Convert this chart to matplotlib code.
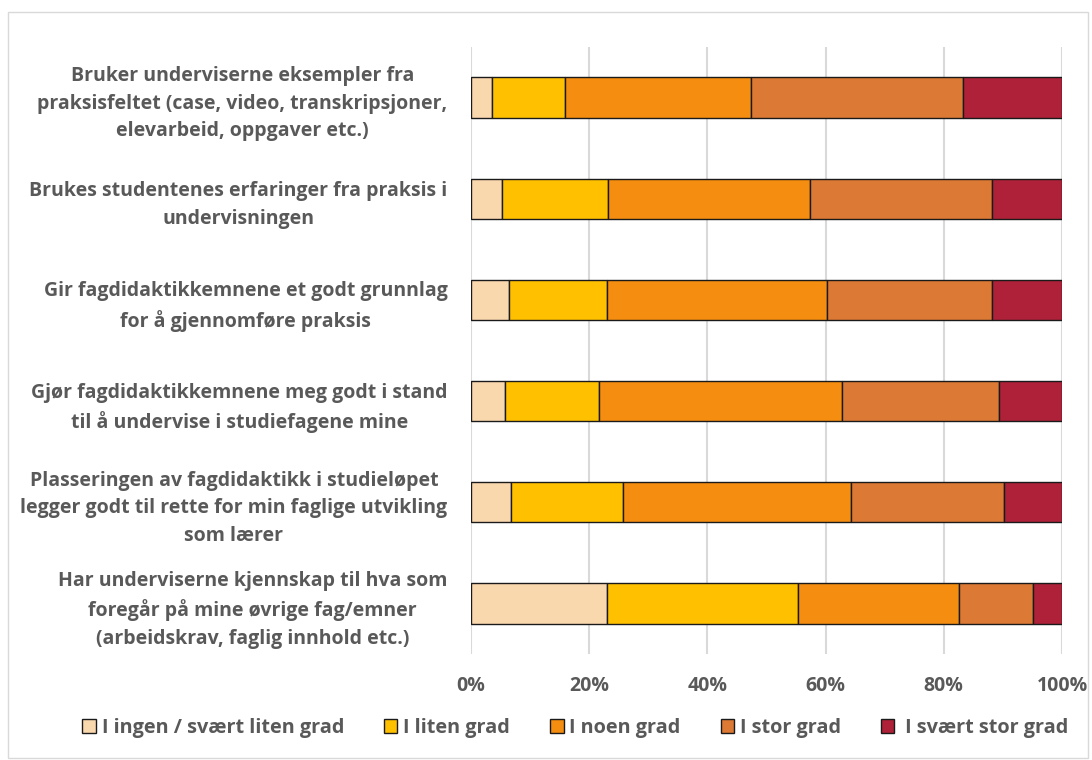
import numpy as np
import matplotlib
matplotlib.use('Agg')
import matplotlib.pyplot as plt
from matplotlib import font_manager as fm
from matplotlib.patches import Rectangle, Patch

# pick a family that really has a bold face installed
fam = 'DejaVu Sans'
for name in ['Open Sans', 'Lato', 'Noto Sans', 'Liberation Sans']:
    if any(f.name == name and f.weight in (600, 700, 'bold', 'semibold')
           for f in fm.fontManager.ttflist):
        fam = name
        break
plt.rcParams['font.family'] = [fam, 'DejaVu Sans']
plt.rcParams['font.weight'] = 'bold'

# categories (top to bottom)
questions = [
    'Bruker underviserne eksempler fra\npraksisfeltet (case, video, transkripsjoner,\nelevarbeid, oppgaver etc.)',
    'Brukes studentenes erfaringer fra praksis i\nundervisningen',
    'Gir fagdidaktikkemnene et godt grunnlag\nfor å gjennomføre praksis',
    'Gjør fagdidaktikkemnene meg godt i stand\ntil å undervise i studiefagene mine',
    'Plasseringen av fagdidaktikk i studieløpet\nlegger godt til rette for min faglige utvikling\nsom lærer',
    'Har underviserne kjennskap til hva som\nforegår på mine øvrige fag/emner\n(arbeidskrav, faglig innhold etc.)',
]

levels = ['I ingen / svært liten grad', 'I liten grad', 'I noen grad',
          'I stor grad', ' I svært stor grad']
colors = ['#FAD8AE', '#FFC000', '#F48D10', '#DB7935', '#AF2139']

# shares in percent, one list per answer level (same order as questions)
ingen = [3.5, 5.3, 6.4, 5.8, 6.7, 23.0]
liten = [12.4, 17.8, 16.6, 15.8, 19.0, 32.3]
noen = [31.4, 34.3, 37.2, 41.1, 38.6, 27.2]
stor = [35.9, 30.8, 27.9, 26.6, 25.9, 12.6]
svaert = [16.8, 11.8, 11.9, 10.7, 9.8, 4.9]

data = np.array([ingen, liten, noen, stor, svaert]) / 100.0

txt = '#595959'
fs = 14

fig = plt.figure(figsize=(10.92, 7.6), dpi=100)
ax = fig.add_axes([471 / 1092, 1 - 654 / 760, 591 / 1092, 607 / 760])

y = np.arange(len(questions))
left = np.zeros(len(questions))
for vals, lab, col in zip(data, levels, colors):
    ax.barh(y, vals, left=left, height=0.4, color=col, edgecolor='#1a1a1a',
            linewidth=1.0, label=lab, zorder=3)
    left += vals

ax.set_xlim(0, 1)
ax.set_ylim(len(questions) - 0.5, -0.5)
ax.set_xticks(np.linspace(0, 1, 6))
ax.set_xticklabels(['0%', '20%', '40%', '60%', '80%', '100%'])
ax.set_yticks(y)
ax.set_yticklabels(questions, ha='right', multialignment='center',
                   linespacing=1.5)
ax.tick_params(axis='both', length=0, colors=txt, labelsize=fs)
ax.tick_params(axis='y', pad=17)
ax.tick_params(axis='x', pad=16)
for t in ax.get_xticklabels() + ax.get_yticklabels():
    t.set_fontweight('bold')
    t.set_color(txt)
ax.grid(axis='x', color='#D9D9D9', linewidth=1.5, zorder=0)
for s in ax.spines.values():
    s.set_visible(False)

handles = [Patch(facecolor=c, edgecolor='#1a1a1a', linewidth=1.0) for c in colors]
leg = fig.legend(handles, levels, loc='center', bbox_to_anchor=(0.527, 1 - 728 / 760),
                 ncol=5, frameon=False, handlelength=0.68, handleheight=0.68,
                 handletextpad=0.3, columnspacing=2.0,
                 prop={'size': 14.3, 'weight': 'bold'})
for t in leg.get_texts():
    t.set_color(txt)

# outer chart border
fig.patches.append(Rectangle((8 / 1092, 2 / 760), 1080 / 1092, 746 / 760,
                             transform=fig.transFigure, fill=False,
                             edgecolor='#D9D9D9', linewidth=1.0))

fig.savefig('out.png', dpi=100, facecolor='white')
